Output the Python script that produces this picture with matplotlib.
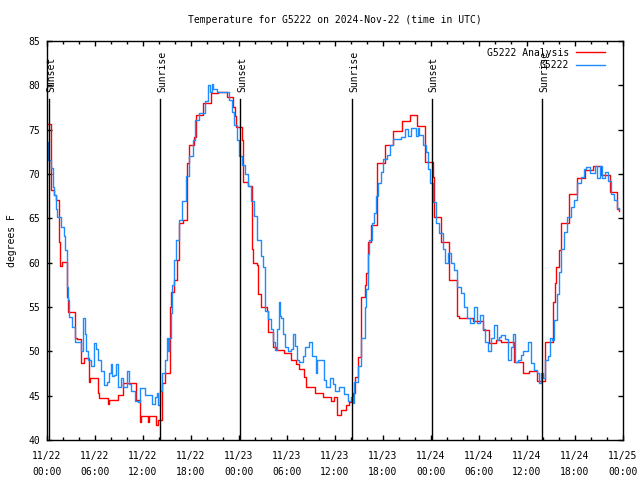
import numpy as np
import pandas as pd
import matplotlib
matplotlib.use('Agg')
import matplotlib.pyplot as plt
import matplotlib.dates as mdates

start = pd.Timestamp('2024-11-22 00:00')

# hours after start
analysis_hours = [0.0, 0.46, 0.55, 0.9, 1.1, 1.5, 1.65, 1.85, 2.45, 2.6, 3.5, 3.7, 4.3, 4.6, 5.2, 5.3, 5.4,
                  6.4, 6.55, 7.6, 7.7, 8.9, 9.5, 11.15, 11.6, 11.75, 12.6, 12.75, 13.65, 13.85, 14.4, 14.7,
                  15.4, 15.55, 15.9, 16.3, 16.55, 17.0, 17.5, 17.7, 18.4, 18.6, 19.5, 20.5, 21.4, 22.45,
                  23.3, 23.5, 23.65, 24.4, 24.55, 25.15, 25.6, 25.8, 26.2, 26.4, 26.75, 27.45, 27.6, 28.3,
                  28.6, 29.65, 30.5, 31.07, 31.5, 32.1, 32.4, 33.5, 34.5, 35.55, 35.85, 36.3, 36.8, 37.4,
                  37.8, 38.3, 38.5, 38.9, 39.3, 39.7, 39.9, 40.15, 40.55, 41.2, 41.25, 42.3, 43.3, 44.4,
                  45.4, 46.25, 47.25, 48.3, 48.4, 49.3, 50.3, 51.3, 51.45, 53.2, 54.45, 55.3, 56.1, 56.7,
                  58.35, 59.45, 60.3, 61.25, 62.3, 63.2, 63.3, 63.45, 63.6, 64.05, 64.25, 65.2, 66.25,
                  67.2, 68.25, 69.3, 70.4, 71.25, 71.5]
analysis_temps = [75.6, 73.8, 68.2, 67.6, 67.1, 62.3, 59.6, 60.1, 56.1, 54.4, 51.5, 51.4, 48.7, 49.2, 47.5,
                  46.5, 47.0, 45.3, 44.7, 44.1, 44.5, 45.1, 46.4, 44.5, 42.0, 42.7, 42.0, 42.7, 41.7, 42.3,
                  46.4, 47.6, 55.0, 56.7, 58.0, 60.3, 64.5, 64.8, 71.2, 73.3, 74.2, 76.7, 78.0, 79.1, 79.2,
                  78.7, 77.5, 76.5, 75.3, 73.8, 69.1, 68.7, 61.5, 60.0, 59.7, 56.5, 55.0, 54.5, 52.2, 50.5,
                  50.2, 49.8, 49.0, 48.6, 48.0, 47.1, 46.0, 45.3, 44.9, 44.4, 44.9, 42.8, 43.4, 44.0, 44.3,
                  45.3, 47.1, 49.4, 56.1, 57.5, 58.8, 62.3, 64.3, 67.0, 71.2, 73.3, 74.9, 76.0, 76.7, 75.4,
                  71.4, 69.7, 65.2, 62.3, 58.0, 54.0, 53.8, 53.4, 52.4, 50.9, 51.3, 51.1, 48.8, 47.5, 47.8,
                  46.7, 51.1, 53.2, 55.6, 57.7, 59.5, 61.4, 64.5, 67.8, 69.5, 70.4, 70.9, 69.9, 68.0, 66.0,
                  65.8]

obs_hours = [0.0, 0.12, 0.46, 0.7, 0.87, 1.08, 1.2, 1.7, 2.1, 2.3, 2.45, 2.6, 2.75, 3.1, 3.45, 4.0, 4.3,
             4.5, 4.7, 4.9, 5.1, 5.45, 5.85, 6.1, 6.35, 6.7, 7.1, 7.45, 7.7, 7.95, 8.15, 8.35, 8.6, 8.86,
             9.2, 9.5, 9.8, 10.0, 10.3, 10.5, 10.95, 11.35, 11.65, 12.2, 12.7, 13.1, 13.45, 13.7, 13.85,
             14.1, 14.35, 14.7, 14.95, 15.1, 15.25, 15.45, 15.65, 15.85, 16.15, 16.55, 16.85, 17.35, 17.8,
             18.2, 18.45, 19.05, 19.7, 20.1, 20.35, 20.6, 20.8, 21.2, 22.25, 22.7, 23.1, 23.4, 23.7, 24.0,
             24.35, 24.75, 25.1, 25.5, 25.9, 26.3, 26.75, 27.05, 27.25, 27.6, 28.0, 28.3, 28.5, 28.8,
             28.95, 29.1, 29.3, 29.55, 29.75, 30.15, 30.45, 30.7, 31.0, 31.3, 31.55, 32.0, 32.3, 32.8,
             33.15, 33.65, 33.8, 34.15, 34.6, 34.9, 35.35, 35.7, 36.0, 36.5, 37.1, 37.6, 38.0, 38.2, 38.4,
             38.85, 39.25, 39.7, 39.9, 40.1, 40.3, 40.65, 40.9, 41.1, 41.35, 41.7, 42.05, 42.45, 42.9,
             43.2, 44.25, 44.7, 45.1, 45.5, 46.1, 46.35, 46.55, 46.95, 47.4, 47.6, 47.9, 48.2, 48.6,
             49.05, 49.45, 49.75, 50.1, 50.5, 50.9, 51.3, 51.75, 52.15, 52.55, 52.85, 53.35, 53.75, 54.1,
             54.45, 54.75, 55.15, 55.55, 55.85, 56.2, 56.55, 56.8, 57.25, 57.65, 57.95, 58.2, 58.5, 58.9,
             59.2, 59.5, 60.15, 60.55, 60.85, 61.2, 61.45, 61.8, 62.0, 62.2, 62.65, 62.9, 63.1, 63.4,
             63.7, 64.0, 64.25, 64.6, 65.0, 65.5, 65.85, 66.25, 66.7, 67.1, 67.4, 67.9, 68.55, 68.75,
             69.1, 69.4, 69.8, 70.1, 70.5, 70.85, 71.25, 71.5]
obs_temps = [73.6, 71.6, 70.7, 68.5, 67.6, 66.0, 65.2, 64.0, 63.0, 61.4, 57.3, 55.8, 53.9, 52.8, 51.1,
             51.1, 50.0, 53.8, 52.0, 50.0, 49.0, 48.3, 50.9, 50.3, 49.0, 47.8, 46.2, 46.5, 47.5, 48.6,
             47.2, 47.3, 48.6, 46.0, 47.0, 46.0, 46.0, 47.8, 46.3, 45.5, 44.4, 44.3, 45.9, 45.1, 45.1,
             44.1, 44.8, 45.3, 44.0, 45.5, 47.5, 49.0, 51.5, 50.0, 51.5, 54.3, 57.5, 60.3, 62.6, 64.8,
             67.0, 69.8, 72.0, 73.8, 76.1, 76.9, 78.2, 80.0, 79.3, 80.2, 79.6, 79.2, 79.2, 78.3, 77.0,
             75.5, 73.8, 72.0, 71.0, 70.0, 68.6, 67.0, 65.3, 62.5, 60.8, 59.5, 54.5, 53.7, 52.5, 51.0,
             50.2, 52.5, 55.6, 54.0, 53.8, 52.0, 50.5, 50.0, 50.3, 52.0, 50.6, 49.0, 48.8, 49.5, 50.5,
             51.1, 49.5, 47.6, 49.0, 49.0, 46.8, 46.0, 47.0, 46.3, 45.5, 46.0, 45.2, 44.4, 44.8, 44.2,
             46.5, 48.4, 51.5, 55.0, 57.0, 61.0, 62.6, 64.5, 65.6, 67.5, 69.0, 70.2, 71.7, 72.1, 73.3,
             74.0, 74.2, 75.1, 74.3, 75.2, 74.3, 75.2, 74.4, 73.3, 72.5, 70.6, 69.0, 66.8, 64.5, 63.4,
             61.5, 60.0, 61.1, 60.0, 59.2, 57.3, 56.6, 55.0, 53.8, 53.2, 55.0, 53.2, 54.1, 52.5, 51.0,
             50.0, 51.5, 53.0, 51.3, 51.6, 51.8, 51.4, 49.0, 50.5, 52.0, 48.8, 49.0, 49.6, 50.0, 51.1,
             48.7, 47.9, 47.6, 46.4, 47.6, 47.0, 49.0, 49.5, 51.5, 51.3, 53.5, 56.5, 59.0, 61.5, 63.5,
             65.2, 66.3, 67.1, 69.0, 69.7, 70.6, 70.8, 70.1, 70.9, 69.5, 70.9, 69.5, 70.2, 69.2, 67.8,
             67.1, 66.2, 66.0]

sun_hours = [0.29, 14.14, 24.15, 38.1, 48.08, 61.93]
sun_labels = ['Sunset', 'Sunrise', 'Sunset', 'Sunrise', 'Sunset', 'Sunrise']

plt.rcParams['font.family'] = 'DejaVu Sans Mono'
plt.rcParams['font.size'] = 7

analysis_t = start + pd.to_timedelta(analysis_hours, unit='h')
obs_t = start + pd.to_timedelta(obs_hours, unit='h')
sun_t = start + pd.to_timedelta(sun_hours, unit='h')

fig = plt.figure(figsize=(6.4, 4.8), dpi=100)
ax = fig.add_axes([47 / 640, 40 / 480, 576 / 640, 399 / 480])

ax.plot(analysis_t, analysis_temps, color='#ff0000', linewidth=1, drawstyle='steps-post', label='G5222 Analysis')
ax.plot(obs_t, obs_temps, color='#1e8cff', linewidth=1, drawstyle='steps-post', label='G5222')

for t, lab in zip(sun_t, sun_labels):
    ax.axvline(t, ymin=0, ymax=0.855, color='black', linewidth=1)
    ax.annotate(lab, xy=(t, 0.872), xycoords=('data', 'axes fraction'), xytext=(1.5, 0),
                textcoords='offset points', rotation=90, ha='center', va='bottom')

ax.set_xlim(start, start + pd.Timedelta(hours=72))
ax.set_ylim(40, 85)
ax.set_yticks(np.arange(40, 86, 5))
ax.xaxis.set_major_locator(mdates.HourLocator(byhour=range(0, 24, 6)))
ax.xaxis.set_minor_locator(mdates.HourLocator(byhour=range(0, 24, 2)))
ax.xaxis.set_major_formatter(mdates.DateFormatter('%m/%d\n%H:%M'))
ax.tick_params(which='both', direction='in', top=True, right=True, width=1)
ax.tick_params(which='major', length=3.5)
ax.tick_params(which='minor', length=2.5)
ax.tick_params(axis='x', pad=8)
ax.tick_params(axis='y', pad=5)
for lbl in ax.get_xticklabels():
    lbl.set_linespacing(1.7)
for s in ax.spines.values():
    s.set_linewidth(1)

ax.set_title('Temperature for G5222 on 2024-Nov-22 (time in UTC)', fontsize=7, pad=13)
ax.set_ylabel('degrees F', labelpad=8)
ax.legend(loc='upper right', bbox_to_anchor=(0.977, 0.995), frameon=False, markerfirst=False,
          borderpad=0, handlelength=3.0, handletextpad=0.7, labelspacing=0.25)

plt.savefig('out.png', dpi=100)
print('Done')
